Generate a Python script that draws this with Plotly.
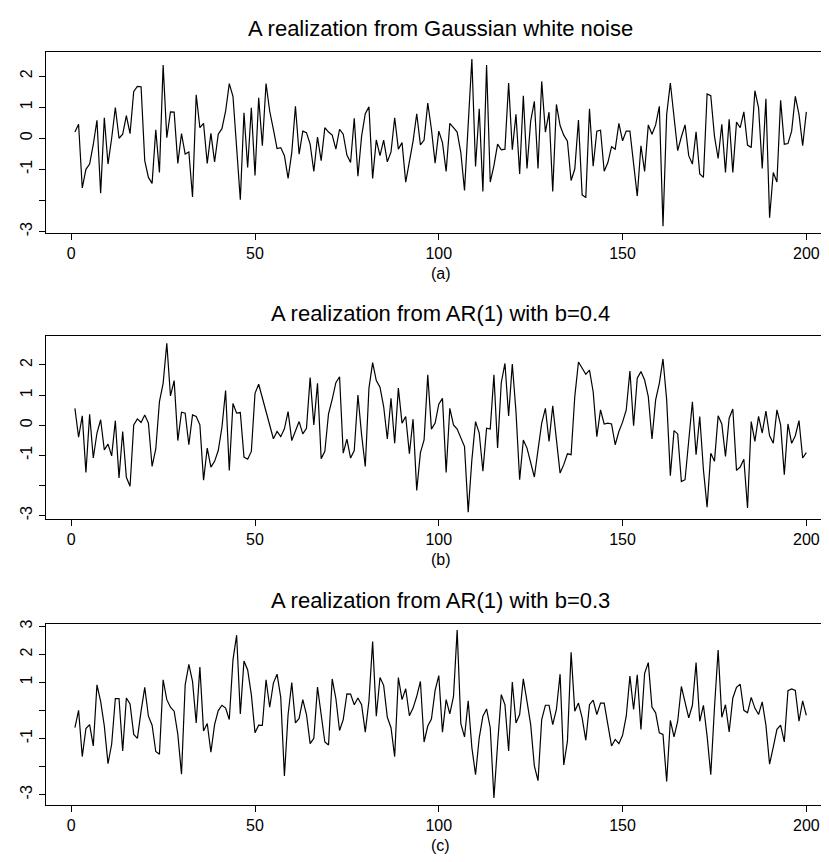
import plotly.graph_objects as go

t = list(range(1, 201))

white_noise = [
    0.2, 0.45, -1.6, -1.0, -0.83, -0.2, 0.58, -1.77, 0.66, -0.83,
    0.0, 0.99, 0.0, 0.13, 0.73, 0.15, 1.51, 1.67, 1.66, -0.72,
    -1.26, -1.45, 0.27, -1.1, 2.36, 0.02, 0.85, 0.84, -0.81, 0.15,
    -0.51, -0.44, -1.89, 1.40, 0.34, 0.48, -0.81, 0.16, -0.76, 0.13,
    0.31, 0.87, 1.76, 1.35, -0.3, -1.98, 0.82, -0.94, 0.98, -1.2,
    1.30, -0.24, 1.76, 0.87, 0.29, -0.33, -0.30, -0.56, -1.29, -0.46,
    1.03, -0.51, 0.23, 0.18, -0.19, -1.07, 0.04, -0.72, 0.34, 0.2,
    0.1, -0.35, 0.29, 0.13, -0.54, -0.78, 0.64, -1.22, 0.07, 0.79,
    1.01, -1.29, -0.05, -0.56, -0.06, -0.76, -0.44, 0.66, -0.35, -0.14,
    -1.41, -0.72, -0.09, 0.79, -0.21, -0.06, 1.13, 0.29, -0.8, 0.23,
    -0.14, -1.07, 0.48, 0.34, 0.2, -0.46, -1.68, 0.44, 2.55, -0.91,
    0.95, -1.71, 2.36, -1.41, -0.88, -0.19, -0.37, -0.35, 1.78, -0.37,
    0.77, -1.15, 1.37, -0.97, 0.55, 1.19, -0.97, 1.83, 0.2, 0.84,
    -1.71, 1.09, 0.41, 0.1, -0.09, -1.36, -0.99, 0.59, -1.82, -1.91,
    0.95, -0.9, 0.23, 0.26, -1.06, -0.78, -0.27, -0.35, 0.48, -0.08,
    0.23, 0.23, -0.8, -1.86, -0.24, -1.07, 0.43, 0.13, 0.43, 1.03,
    -2.83, 0.77, 1.78, 0.69, -0.4, 0.05, 0.43, -0.56, -0.83, 0.21,
    -1.15, -1.26, 1.43, 1.37, 0.07, -0.65, 0.45, -1.1, 0.61, -1.1,
    0.52, 0.34, 0.85, -0.22, -0.3, 1.53, 0.98, -0.97, 1.27, -2.56,
    -1.1, -1.41, 1.22, -0.19, -0.17, 0.23, 1.35, 0.77, -0.24, 0.85,
]

ar_b04 = [
    0.56, -0.40, 0.31, -1.57, 0.36, -1.09, -0.26, 0.18, -0.82, -0.63,
    -1.02, 0.15, -1.75, -0.21, -1.73, -2.03, 0.01, 0.21, 0.09, 0.34,
    0.07, -1.37, -0.79, 0.78, 1.39, 2.72, 0.97, 1.48, -0.51, 0.43,
    0.40, -0.65, 0.34, 0.29, 0.01, -1.83, -0.76, -1.39, -1.2, -0.84,
    -0.07, 1.15, -1.5, 0.72, 0.40, 0.42, -1.06, -1.13, -0.87, 1.06,
    1.36, 0.89, 0.51, 0.03, -0.45, -0.21, -0.38, -0.12, 0.45, -0.51,
    -0.21, 0.12, -0.29, -0.10, 1.58, 0.01, 1.39, -1.11, -0.87, 0.38,
    0.86, 1.41, 1.61, -0.93, -0.46, -1.09, -0.84, 1.0, -0.32, -1.37,
    1.23, 2.08, 1.48, 1.26, 0.62, -0.46, 0.89, -0.6, 1.23, 0.07,
    0.29, -0.95, 0.2, -2.17, -0.91, -0.49, 1.67, -0.13, 0.07, 0.7,
    0.89, -1.57, 0.56, 0.01, -0.13, -0.40, -0.71, -2.89, -1.15, 0.12,
    -0.26, -1.53, -0.10, -0.13, 1.67, -0.76, 1.41, 2.05, 0.31, 2.03,
    0.45, -1.81, -0.49, -0.76, -1.24, -1.72, -0.82, 0.07, 0.56, -0.54,
    0.64, -0.54, -1.59, -1.31, -0.95, -0.98, 0.95, 2.1, 1.89, 1.69,
    1.83, 1.11, -0.38, 0.51, 0.04, 0.07, 0.04, -0.65, -0.21, 0.1,
    0.51, 1.8, -0.02, 1.56, 1.78, 1.5, 0.95, -0.46, 0.84, 1.39,
    2.2, 0.84, -1.68, -0.18, -0.29, -1.87, -1.81, -0.6, 0.78, -0.98,
    0.29, -1.48, -2.72, -0.93, -1.2, 0.31, 0.04, -1.04, 0.23, 0.54,
    -1.5, -1.39, -1.13, -2.75, 0.12, -0.54, 0.29, -0.26, 0.47, -0.35,
    -0.6, 0.51, 0.01, -1.64, 0.04, -0.6, -0.35, 0.15, -1.09, -0.91,
]

ar_b03 = [
    -0.61, 0.01, -1.64, -0.64, -0.5, -1.26, 0.92, 0.33, -0.55, -1.89,
    -1.2, 0.43, 0.43, -1.44, 0.45, 0.24, -0.85, -0.99, -0.02, 0.83,
    -0.2, -0.52, -1.46, -1.56, 1.1, 0.39, 0.12, -0.02, -0.85, -2.27,
    0.92, 1.65, 1.04, -0.44, 1.55, -0.73, -0.46, -1.48, -0.5, 0.0,
    0.19, 0.09, -0.32, 1.81, 2.69, -0.12, 1.77, 1.45, 0.57, -0.79,
    -0.52, -0.53, 1.1, 0.12, 0.98, 1.3, 0.47, -2.33, -0.14, 1.0,
    -0.44, -0.28, 0.39, -0.14, -1.18, -0.99, 0.84, -0.2, -1.12, -1.23,
    1.13, 0.43, -0.71, -0.32, 0.6, 0.59, 0.21, 0.45, 0.21, -0.77,
    0.35, 2.46, -0.2, 1.18, 0.9, -0.24, -0.61, -1.64, 1.18, 0.39,
    0.78, -0.18, 0.09, 0.51, 1.04, -1.12, -0.55, -0.3, 0.72, 1.25,
    -0.77, 0.39, -0.12, 0.51, 2.87, -0.47, -0.94, 0.35, -1.32, -2.29,
    -0.97, -0.2, 0.06, -0.61, -3.12, -1.2, 0.57, 0.21, -1.44, 1.02,
    -0.44, -0.14, 1.13, 0.33, -0.5, -1.97, -2.5, -0.32, 0.19, 0.19,
    -0.5, 0.04, 1.3, -1.94, -1.09, 2.08, -0.02, 0.27, -0.26, -1.06,
    0.21, 0.37, -0.14, 0.27, 0.27, -0.5, -1.26, -1.03, -1.18, -0.88,
    -0.2, 1.23, 0.04, 1.28, -0.67, 1.33, 1.71, 0.13, -0.08, -0.79,
    -0.85, -2.53, -0.35, -0.94, -0.38, 0.86, 0.27, -0.26, 0.19, 1.71,
    -0.38, 0.19, -0.91, -2.29, 0.09, 2.16, -0.24, 0.21, -0.76, 0.45,
    0.83, 0.94, 0.01, -0.08, 0.47, 0.09, -0.14, 0.31, -0.52, -1.91,
    -1.3, -0.67, -0.52, -1.12, 0.71, 0.77, 0.72, -0.38, 0.35, -0.17,
]

titles = [
    "A realization from Gaussian white noise",
    "A realization from AR(1) with b=0.4",
    "A realization from AR(1) with b=0.3",
]
sublabels = ["(a)", "(b)", "(c)"]
x_ticks = [0, 50, 100, 150, 200]
y_ticks_ab = [-3, -2, -1, 0, 1, 2]
y_text_ab = ["-3", "", "-1", "0", "1", "2"]
y_ticks_c = [-3, -2, -1, 0, 1, 2, 3]
y_text_c = ["-3", "", "-1", "", "1", "2", "3"]

W, H = 829, 862
x_left, x_right = 37.7, 828.6
boxes = [(40.0, 222.7), (327.0, 510.7), (616.7, 799.0)]
yranges = [(-3.045, 2.787), (-3.10, 2.95), (-3.35, 3.10)]
series = [white_noise, ar_b04, ar_b03]
yticks = [(y_ticks_ab, y_text_ab), (y_ticks_ab, y_text_ab), (y_ticks_c, y_text_c)]

fig = go.Figure()
font = "Liberation Sans, Arial, Helvetica, sans-serif"
layout = dict(
    width=W, height=H,
    margin=dict(l=0, r=0, t=0, b=0),
    paper_bgcolor="white", plot_bgcolor="white",
    showlegend=False,
    font=dict(family=font, color="black", size=16),
)
annotations = []
for k in range(3):
    sfx = "" if k == 0 else str(k + 1)
    top, bot = boxes[k]
    fig.add_trace(go.Scatter(
        x=t, y=series[k], mode="lines",
        line=dict(color="black", width=1.2),
        xaxis="x" + sfx, yaxis="y" + sfx,
    ))
    common = dict(showline=True, mirror=True, linecolor="black", linewidth=1,
                  showgrid=False, zeroline=False, ticks="outside", ticklen=6,
                  tickcolor="black", tickwidth=1,
                  tickfont=dict(family=font, size=16, color="black"))
    layout["xaxis" + sfx] = dict(
        domain=[x_left / W, x_right / W], range=[-6.96, 207.96],
        tickvals=x_ticks, ticktext=[str(v) for v in x_ticks],
        anchor="y" + sfx, **common)
    layout["yaxis" + sfx] = dict(
        domain=[1 - bot / H, 1 - top / H], range=list(yranges[k]),
        tickvals=yticks[k][0], ticktext=yticks[k][1], tickangle=-90,
        anchor="x" + sfx, **common)
    cx = (x_left + x_right) / 2 / W
    annotations.append(dict(
        text=titles[k], x=cx, y=1 - (top - 23) / H, xref="paper", yref="paper",
        showarrow=False, xanchor="center", yanchor="middle",
        font=dict(family=font, size=22, color="black")))
    annotations.append(dict(
        text=sublabels[k], x=cx, y=1 - (bot + 41) / H, xref="paper", yref="paper",
        showarrow=False, xanchor="center", yanchor="middle",
        font=dict(family=font, size=16, color="black")))

layout["annotations"] = annotations
fig.update_layout(**layout)
fig.write_html("out.html")
